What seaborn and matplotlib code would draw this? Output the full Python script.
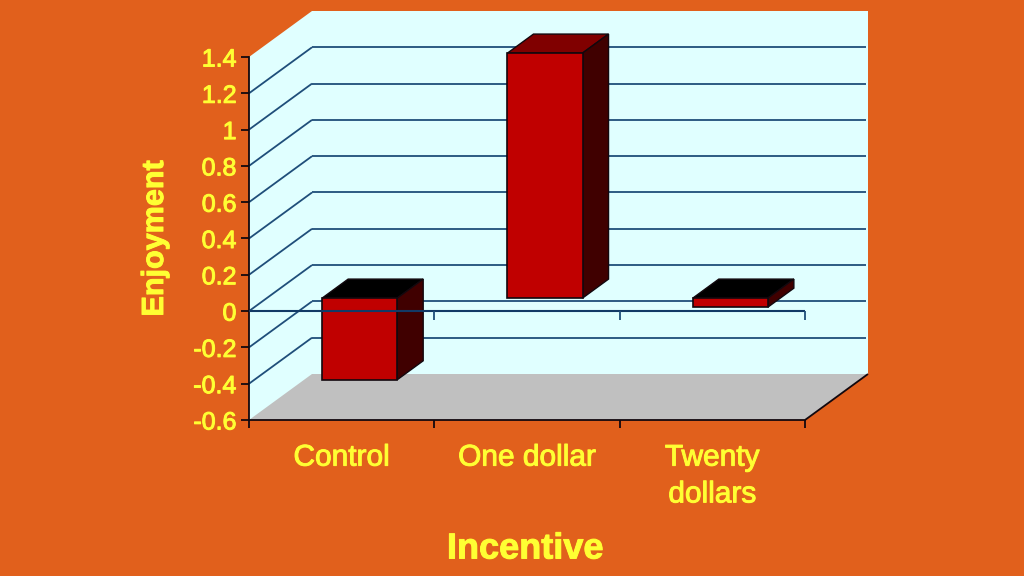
import matplotlib
matplotlib.use("Agg")
import matplotlib.pyplot as plt
import matplotlib.patheffects as pe
import seaborn as sns
from matplotlib.patches import Polygon
from matplotlib.transforms import Affine2D, IdentityTransform

categories = ["Control", "One dollar", "Twenty\ndollars"]
enjoyment = [-0.45, 1.35, -0.05]
y_ticks = [-0.6, -0.4, -0.2, 0, 0.2, 0.4, 0.6, 0.8, 1.0, 1.2, 1.4]
y_tick_labels = ["-0.6", "-0.4", "-0.2", "0", "0.2", "0.4", "0.6", "0.8", "1", "1.2", "1.4"]
x_label = "Incentive"
y_label = "Enjoyment"

BG = "#E1601C"
WALL = "#E0FFFF"
FLOOR = "#C0C0C0"
BAR = "#C00000"
SIDE = "#400000"
TOP_POS = "#800000"
TOP_NEG = "#000000"
GRID = "#1F4E7A"
TEXT = "#FFFF33"
INK = "#12080E"

W, H = 1024, 576
sns.set_style("white")
plt.rcParams["font.family"] = ["Liberation Sans", "DejaVu Sans"]

fig = plt.figure(figsize=(W / 100, H / 100), dpi=100, facecolor=BG)
L, R, T, B = 249, 805, 57, 420
ax = fig.add_axes([L / W, 1 - B / H, (R - L) / W, (B - T) / H])
ax.patch.set_alpha(0)

df = {"cat": categories, "val": enjoyment}
sns.barplot(x="cat", y="val", data=df, ax=ax, width=0.405, color=BAR,
            saturation=1, edgecolor=INK, linewidth=1.2, zorder=5)
ax.set_xlim(-0.5, 2.5)
ax.set_ylim(-0.6, 1.4)

# depth of the fake 3-D box and of the bars, in pixels
DX, DY = 63, 46
BAR_DX, BAR_DY = 18, 13
TOP_DX, TOP_DY = 26, 19

ident = IdentityTransform()
to_px = ax.transData.transform
ax_px = ax.transAxes.transform
fig.canvas.draw()

(x0, y0), (x1, y1) = ax_px((0, 0)), ax_px((1, 1))

def poly(pts, fc, z, ec="none", lw=0):
    ax.add_patch(Polygon(pts, closed=True, fc=fc, ec=ec, lw=lw, zorder=z,
                         transform=ident, clip_on=False))

def seg(a, b, color, z, lw=1.3, alpha=None):
    ax.plot([a[0], b[0]], [a[1], b[1]], color=color, lw=lw, zorder=z, alpha=alpha,
            transform=ident, clip_on=False, solid_capstyle="butt")

# walls and floor
poly([(x0, y0), (x0, y1), (x0 + DX, y1 + DY), (x1 + DX, y1 + DY),
      (x1 + DX, y0 + DY), (x1, y0)], WALL, 0.5)
poly([(x0, y0), (x1, y0), (x1 + DX, y0 + DY), (x0 + DX, y0 + DY)], FLOOR, 0.7)
seg((x1, y0), (x1 + DX, y0 + DY), INK, 0.9)

# gridlines on back and side walls
for v in y_ticks[1:-1]:
    _, py = to_px((0, v))
    seg((x0, py), (x0 + DX, py + DY), GRID, 1)
    seg((x0 + DX, py + DY), (x1 + DX - 2, py + DY), GRID, 1)

# bars: move seaborn's front faces into the box, then add side and top faces
shift = Affine2D().translate(BAR_DX, BAR_DY)
for patch in list(ax.patches):
    if patch.get_zorder() == 5:
        patch.set_transform(ax.transData + shift)
        patch.set_clip_on(False)
        xa = patch.get_x()
        xb = xa + patch.get_width()
        ya, yb = sorted((patch.get_y(), patch.get_y() + patch.get_height()))
        lo_r = to_px((xb, ya)) + (BAR_DX, BAR_DY)
        hi_l = to_px((xa, yb)) + (BAR_DX, BAR_DY)
        hi_r = to_px((xb, yb)) + (BAR_DX, BAR_DY)
        top_fc = TOP_POS if ya >= 0 else TOP_NEG
        poly([hi_l, hi_r, hi_r + (TOP_DX, TOP_DY), hi_l + (TOP_DX, TOP_DY)],
             top_fc, 4, INK, 1.0)
        poly([lo_r, hi_r, hi_r + (TOP_DX, TOP_DY), lo_r + (TOP_DX, TOP_DY)],
             SIDE, 4, INK, 1.0)

# zero line with its category ticks, over the bars
_, zero_y = to_px((0, 0))
seg((x0, zero_y), (x1, zero_y), "#123A66", 8, lw=1.5)
for edge in [0.5, 1.5, 2.5]:
    ex, _ = to_px((edge, 0))
    seg((ex, zero_y), (ex, zero_y - 9), GRID, 8)

# axes furniture
sns.despine(ax=ax, top=True, right=True)
for s in ("left", "bottom"):
    ax.spines[s].set_color(INK)
    ax.spines[s].set_linewidth(1.3)
    ax.spines[s].set_zorder(7)

ax.set_yticks(y_ticks)
ax.set_yticklabels(y_tick_labels)
ax.set_xticks([-0.5, 0.5, 1.5, 2.5], minor=True)
ax.tick_params(axis="y", which="major", left=True, length=6, width=1.3, color=INK,
               labelsize=18, labelcolor=TEXT, pad=3)
ax.tick_params(axis="x", which="minor", bottom=True, length=6, width=1.3, color=INK)
ax.tick_params(axis="x", which="major", bottom=False, length=0,
               labelsize=21.5, labelcolor=TEXT, pad=17)

heavy = [pe.withStroke(linewidth=0.7, foreground=TEXT)]
for lab in ax.get_xticklabels():
    lab.set_linespacing(1.4)
    lab.set_path_effects(heavy)
for lab in ax.get_yticklabels():
    lab.set_path_effects(heavy)

ax.set_xlabel(x_label, fontsize=26, fontweight="bold", color=TEXT, va="center",
              path_effects=heavy)
ax.set_ylabel(y_label, fontsize=22, fontweight="bold", color=TEXT, va="center",
              path_effects=heavy)
ax.xaxis.set_label_coords(0.497, -(549 - B) / (B - T))
ax.yaxis.set_label_coords((155 - L) / (R - L), 0.5)

fig.savefig("out.png", dpi=100, facecolor=BG)
